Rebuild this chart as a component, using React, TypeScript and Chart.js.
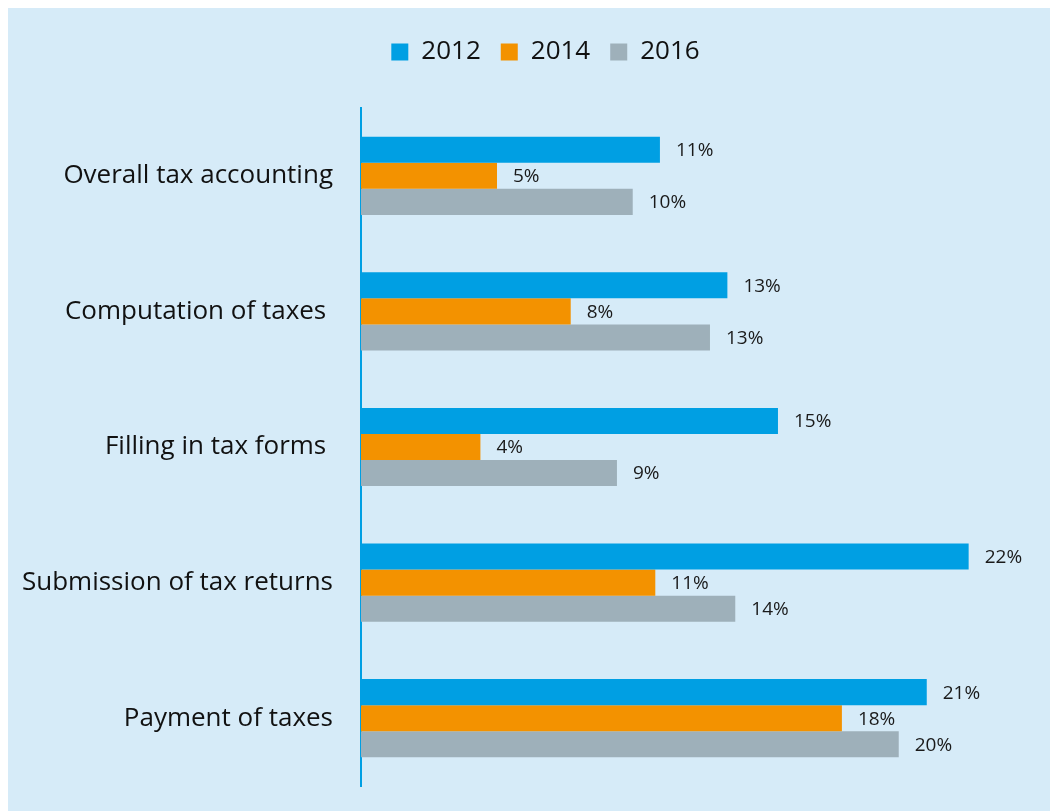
import React, { useEffect, useRef } from "react";
import { Chart, registerables } from "chart.js";

Chart.register(...registerables);

const categories = [
  "Overall tax accounting",
  "Computation of taxes ",
  "Filling in tax forms ",
  "Submission of tax returns",
  "Payment of taxes",
];
const seriesNames = ["2012", "2014", "2016"];
const values2012 = [10.99, 13.47, 15.33, 22.34, 20.8];
const values2014 = [5.0, 7.71, 4.39, 10.82, 17.68];
const values2016 = [9.99, 12.83, 9.41, 13.76, 19.77];
const seriesColors = ["#009fe3", "#f39200", "#9eb0ba"];

const FONT = "'Open Sans', 'DejaVu Sans', sans-serif";

const valueLabels = {
  id: "valueLabels",
  afterDatasetsDraw(chart: any) {
    const ctx = chart.ctx;
    ctx.save();
    ctx.font = `19px ${FONT}`;
    ctx.fillStyle = "#1a1a1a";
    ctx.textAlign = "left";
    ctx.textBaseline = "middle";
    chart.data.datasets.forEach((ds: any, i: number) => {
      const meta = chart.getDatasetMeta(i);
      meta.data.forEach((bar: any, j: number) => {
        ctx.fillText(Math.round(ds.data[j]) + "%", bar.x + 16, bar.y + 1);
      });
    });
    ctx.restore();
  },
};

const legendTweak = {
  id: "legendTweak",
  afterInit(chart: any) {
    const legend = chart.legend;
    if (!legend) return;
    const origFit = legend.fit;
    legend.fit = function () {
      origFit.call(this);
      this.height = 89;
    };
    const origDraw = legend.draw;
    legend.draw = function () {
      const ctx = this.ctx;
      ctx.save();
      ctx.translate(21, 0);
      origDraw.call(this);
      ctx.restore();
    };
  },
};

export default function App() {
  const ref = useRef<HTMLCanvasElement | null>(null);

  useEffect(() => {
    if (!ref.current) return;
    const values = [values2012, values2014, values2016];
    const chart = new Chart(ref.current, {
      type: "bar",
      data: {
        labels: categories,
        datasets: seriesNames.map((name, i) => ({
          label: name,
          data: values[i],
          backgroundColor: seriesColors[i],
          borderWidth: 0,
          barPercentage: 1,
          categoryPercentage: 0.577,
        })),
      },
      options: {
        indexAxis: "y",
        responsive: false,
        animation: false,
        layout: { padding: { top: 11, right: 17, left: 0, bottom: 25 } },
        scales: {
          x: {
            display: false,
            min: 0,
            max: 25,
          },
          y: {
            grid: { display: false, drawTicks: false },
            border: { display: true, color: "#009fe3", width: 2 },
            ticks: {
              padding: 28,
              color: "#111111",
              font: { family: FONT, size: 26 },
            },
            afterFit(scale: any) {
              scale.width = 353;
              scale.paddingTop = 0;
              scale.paddingBottom = 0;
            },
          },
        },
        plugins: {
          legend: {
            position: "top",
            labels: {
              boxWidth: 17,
              boxHeight: 17,
              padding: 20,
              color: "#111111",
              font: { family: FONT, size: 26 },
            },
          },
          tooltip: { enabled: false },
        },
      },
      plugins: [valueLabels, legendTweak],
    } as any);
    return () => chart.destroy();
  }, []);

  return (
    <div style={{ width: 1050, height: 803, background: "#d6ebf8" }}>
      <canvas ref={ref} width={1050} height={803} />
    </div>
  );
}
